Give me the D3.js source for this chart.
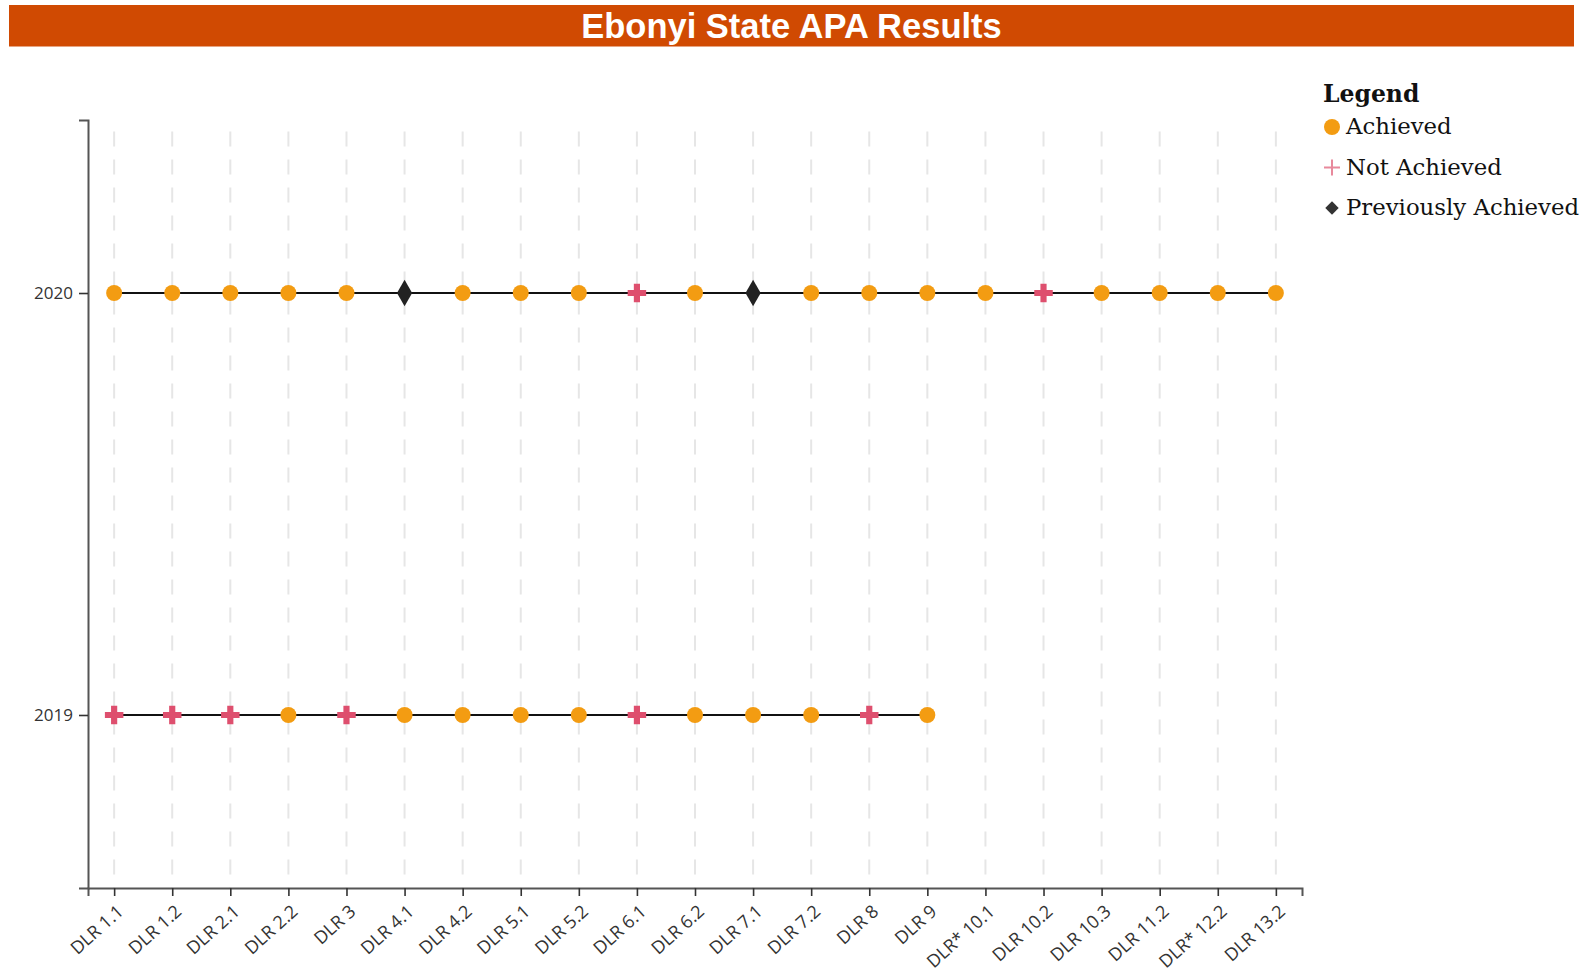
<!DOCTYPE html>
<html>
<head>
<meta charset="utf-8">
<title>Ebonyi State APA Results</title>
<script src="https://cdn.jsdelivr.net/npm/d3@7/dist/d3.min.js"></script>
<style>
  html, body { margin: 0; padding: 0; background: #ffffff; }
  svg { display: block; }
  .axis text { font-family: "Open Sans", "Noto Sans", sans-serif; fill: #333; }
</style>
</head>
<body>
<svg id="chart" width="1580" height="973"></svg>
<script>
// Disbursement-linked results assessed in the Annual Performance Assessment
const categories = [
  "DLR 1.1", "DLR 1.2", "DLR 2.1", "DLR 2.2", "DLR 3", "DLR 4.1", "DLR 4.2",
  "DLR 5.1", "DLR 5.2", "DLR 6.1", "DLR 6.2", "DLR 7.1", "DLR 7.2", "DLR 8",
  "DLR 9", "DLR* 10.1", "DLR 10.2", "DLR 10.3", "DLR 11.2", "DLR* 12.2", "DLR 13.2"
];

// Assessment years (top to bottom)
const years = [2020, 2019];

// Status per DLR: A = Achieved, N = Not Achieved, P = Previously Achieved
const status2020 = ["A", "A", "A", "A", "A", "P", "A", "A", "A", "N", "A",
                    "P", "A", "A", "A", "A", "N", "A", "A", "A", "A"];
const status2019 = ["N", "N", "N", "A", "N", "A", "A", "A", "A", "N", "A",
                    "A", "A", "N", "A"];

const statusLabels = ["Achieved", "Not Achieved", "Previously Achieved"];
const statusCodes = ["A", "N", "P"];

const series = [
  { year: 2020, values: status2020 },
  { year: 2019, values: status2019 }
];

const svg = d3.select("#chart");

// Title banner
svg.append("rect")
  .attr("x", 9).attr("y", 5)
  .attr("width", 1565).attr("height", 41.5)
  .attr("fill", "#D04A02");
svg.append("text")
  .attr("x", 791.5).attr("y", 38)
  .attr("text-anchor", "middle")
  .attr("font-family", "'Liberation Sans', Arial, sans-serif")
  .attr("font-weight", "bold")
  .attr("font-size", 34.5)
  .attr("fill", "#ffffff")
  .text("Ebonyi State APA Results");

// Scales
const x = d3.scalePoint().domain(categories).range([88, 1302]).padding(0.45);
const y = d3.scalePoint().domain(years).range([120, 888]).padding(0.41);

const colour = d3.scaleOrdinal().domain(statusCodes)
  .range(["#F39C12", "#DE4F6E", "#222222"]);

// Vertical dashed grid at each DLR
const [yTop, yBottom] = [y.range()[0], y.range()[1]];
svg.append("g")
  .selectAll("line")
  .data(categories)
  .join("line")
  .attr("x1", d => x(d)).attr("x2", d => x(d))
  .attr("y1", yTop).attr("y2", yBottom)
  .attr("stroke", "#e6e6e6")
  .attr("stroke-width", 2)
  .attr("stroke-dasharray", "15,13")
  .attr("stroke-dashoffset", 16.5);

// Axes
const xAxis = svg.append("g")
  .attr("class", "axis x-axis")
  .attr("transform", `translate(0,${yBottom})`)
  .call(d3.axisBottom(x).tickSize(8));
xAxis.selectAll("text")
  .attr("font-size", 18)
  .attr("text-anchor", "end")
  .attr("dy", null)
  .attr("y", null)
  .attr("transform", "translate(10,25) rotate(-42)");

const yAxis = svg.append("g")
  .attr("class", "axis y-axis")
  .attr("transform", `translate(${x.range()[0]},0)`)
  .call(d3.axisLeft(y).tickSize(9).tickPadding(6).tickFormat(d3.format("d")));
yAxis.selectAll("text").attr("font-size", 17);

svg.selectAll(".axis .domain").attr("stroke", "#555").attr("stroke-width", 2);
svg.selectAll(".axis .tick line").attr("stroke", "#333").attr("stroke-width", 1.6);

// Connecting lines per year
const line = d3.line()
  .x((d, i) => x(categories[i]))
  .y(d => d.yv);

const shapes = {
  A: d3.symbol().type(d3.symbolCircle).size(Math.PI * 8 * 8),
  N: d3.symbol().type(d3.symbolCross).size(190),
  P: d3.symbol().type(d3.symbolDiamond).size(200)
};

const rows = svg.append("g");
series.forEach(s => {
  const pts = s.values.map(v => ({ yv: y(s.year), v }));
  rows.append("path")
    .datum(pts)
    .attr("fill", "none")
    .attr("stroke", "#111")
    .attr("stroke-width", 2)
    .attr("d", line);

  rows.append("g")
    .selectAll("path")
    .data(s.values)
    .join("path")
    .attr("transform", (d, i) => `translate(${x(categories[i])},${y(s.year)})`)
    .attr("d", d => shapes[d]())
    .attr("fill", d => colour(d));
});

// Legend
const legend = svg.append("g").attr("transform", "translate(1323,0)");
legend.append("text")
  .attr("x", 0).attr("y", 102)
  .attr("font-family", "'DejaVu Serif', serif")
  .attr("font-weight", "bold")
  .attr("font-size", 23.5)
  .attr("fill", "#111")
  .text("Legend");

const legendShapes = {
  A: g => g.append("circle").attr("r", 8).attr("fill", "#F39C12"),
  N: g => g.append("path").attr("d", "M-8,0H8M0,-8V8")
          .attr("stroke", "#E8899C").attr("stroke-width", 2).attr("fill", "none"),
  P: g => g.append("path").attr("d", d3.symbol().type(d3.symbolSquare).size(90)())
          .attr("transform", "rotate(45)").attr("fill", "#333")
};

const items = legend.selectAll("g.item")
  .data(statusCodes)
  .join("g")
  .attr("class", "item")
  .attr("transform", (d, i) => `translate(0,${127 + i * 40.5})`);
items.each(function (d) {
  const g = d3.select(this).append("g").attr("transform", "translate(9,0)");
  legendShapes[d](g);
});
items.append("text")
  .attr("x", 23).attr("y", 7)
  .attr("font-family", "'DejaVu Serif', serif")
  .attr("font-size", 22.8)
  .attr("fill", "#111")
  .text((d, i) => statusLabels[i]);
</script>
</body>
</html>
